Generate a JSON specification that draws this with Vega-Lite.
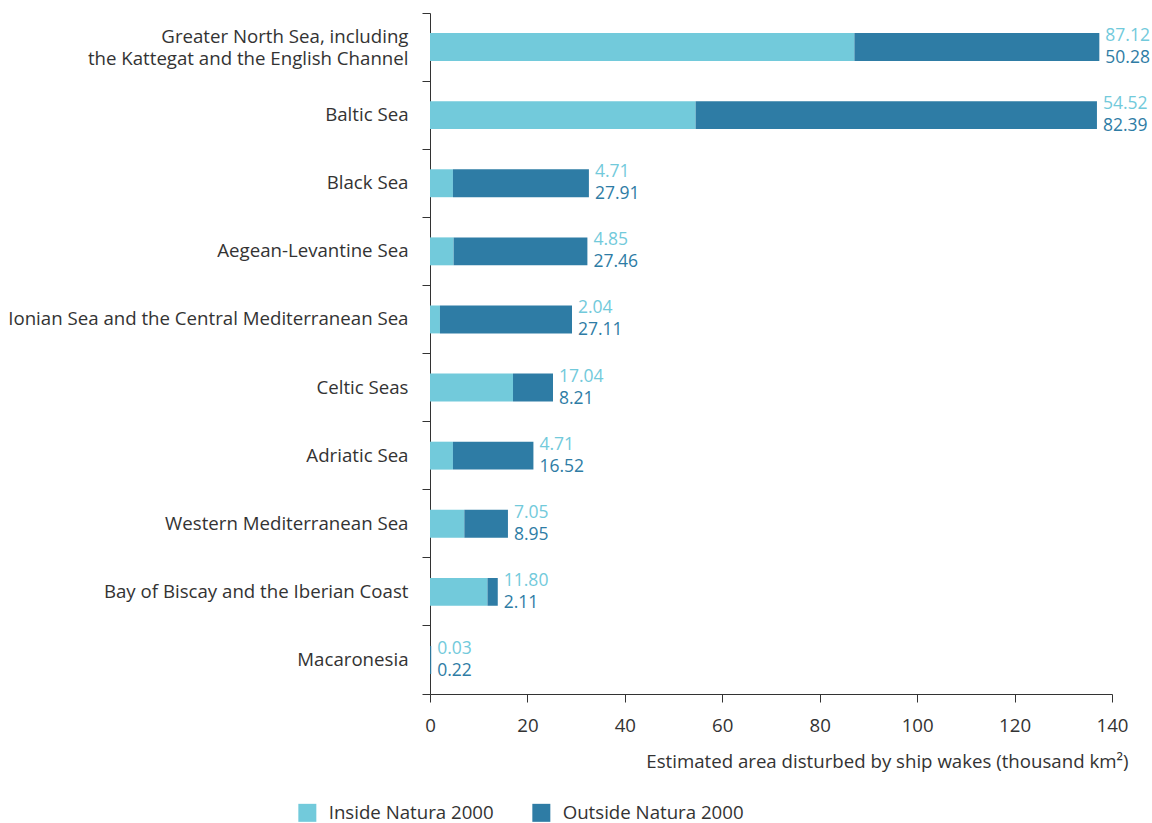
{
  "$schema": "https://vega.github.io/schema/vega-lite/v6.json",
  "width": 682,
  "height": 681,
  "autosize": {"type": "none"},
  "padding": {"left": 430, "top": 13, "right": 40, "bottom": 129},
  "background": "white",
  "config": {
    "font": "Open Sans",
    "view": {"stroke": null},
    "axis": {"labelFont": "Open Sans", "titleFont": "Open Sans", "labelColor": "#333333", "titleColor": "#333333", "domainColor": "#333333", "tickColor": "#333333", "grid": false}
  },
  "data": {
    "values": [
      {"sea": "Greater North Sea, including the Kattegat and the English Channel", "type": "Inside Natura 2000", "value": 87.12},
      {"sea": "Greater North Sea, including the Kattegat and the English Channel", "type": "Outside Natura 2000", "value": 50.28},
      {"sea": "Baltic Sea", "type": "Inside Natura 2000", "value": 54.52},
      {"sea": "Baltic Sea", "type": "Outside Natura 2000", "value": 82.39},
      {"sea": "Black Sea", "type": "Inside Natura 2000", "value": 4.71},
      {"sea": "Black Sea", "type": "Outside Natura 2000", "value": 27.91},
      {"sea": "Aegean-Levantine Sea", "type": "Inside Natura 2000", "value": 4.85},
      {"sea": "Aegean-Levantine Sea", "type": "Outside Natura 2000", "value": 27.46},
      {"sea": "Ionian Sea and the Central Mediterranean Sea", "type": "Inside Natura 2000", "value": 2.04},
      {"sea": "Ionian Sea and the Central Mediterranean Sea", "type": "Outside Natura 2000", "value": 27.11},
      {"sea": "Celtic Seas", "type": "Inside Natura 2000", "value": 17.04},
      {"sea": "Celtic Seas", "type": "Outside Natura 2000", "value": 8.21},
      {"sea": "Adriatic Sea", "type": "Inside Natura 2000", "value": 4.71},
      {"sea": "Adriatic Sea", "type": "Outside Natura 2000", "value": 16.52},
      {"sea": "Western Mediterranean Sea", "type": "Inside Natura 2000", "value": 7.05},
      {"sea": "Western Mediterranean Sea", "type": "Outside Natura 2000", "value": 8.95},
      {"sea": "Bay of Biscay and the Iberian Coast", "type": "Inside Natura 2000", "value": 11.80},
      {"sea": "Bay of Biscay and the Iberian Coast", "type": "Outside Natura 2000", "value": 2.11},
      {"sea": "Macaronesia", "type": "Inside Natura 2000", "value": 0.03},
      {"sea": "Macaronesia", "type": "Outside Natura 2000", "value": 0.22}
    ]
  },
  "transform": [
    {"joinaggregate": [{"op": "sum", "field": "value", "as": "total"}], "groupby": ["sea"]}
  ],
  "encoding": {
    "y": {
      "field": "sea",
      "type": "nominal",
      "sort": null,
      "scale": {"paddingInner": 0, "paddingOuter": 0},
      "axis": {
        "title": null,
        "labelFontSize": 18.67,
        "labelPadding": 14,
        "tickSize": 8,
        "bandPosition": 1,
        "tickExtra": true,
        "labelLineHeight": 22,
        "labelLimit": 500,
        "labelOffset": {"condition": {"test": "datum.value == 'Greater North Sea, including the Kattegat and the English Channel'", "value": -10}, "value": 0},
        "labelExpr": "datum.label == 'Greater North Sea, including the Kattegat and the English Channel' ? ['Greater North Sea, including', 'the Kattegat and the English Channel'] : datum.label"
      }
    }
  },
  "layer": [
    {
      "mark": {"type": "bar", "height": {"band": 0.41}},
      "encoding": {
        "x": {
          "field": "value",
          "type": "quantitative",
          "stack": "zero",
          "scale": {"domain": [0, 140]},
          "axis": {
            "title": "Estimated area disturbed by ship wakes (thousand km²)",
            "values": [0, 20, 40, 60, 80, 100, 120, 140],
            "labelFontSize": 18.67,
            "labelPadding": 14,
            "labelFlush": false,
            "tickSize": 8,
            "titleFontSize": 18.67,
            "titleFontWeight": "normal",
            "titleAnchor": "end",
            "titleAlign": "right",
            "titleX": 698,
            "titleY": 58
          }
        },
        "color": {
          "field": "type",
          "type": "nominal",
          "scale": {"domain": ["Inside Natura 2000", "Outside Natura 2000"], "range": ["#72CADB", "#2E7CA5"]},
          "legend": {
            "title": null,
            "orient": "none",
            "direction": "horizontal",
            "legendX": -132,
            "legendY": 790,
            "symbolType": "square",
            "symbolSize": 324,
            "symbolStrokeWidth": 0,
            "labelFontSize": 18.67,
            "labelColor": "#333333",
            "labelFont": "Open Sans",
            "labelLimit": 400,
            "columnPadding": 38,
            "labelOffset": 12
          }
        },
        "order": {"field": "type", "sort": "ascending"}
      }
    },
    {
      "transform": [{"filter": "datum.type == 'Inside Natura 2000'"}],
      "mark": {"type": "text", "align": "left", "baseline": "middle", "dx": 6, "dy": -11, "fontSize": 17.5, "color": "#72CADB"},
      "encoding": {
        "x": {"field": "total", "type": "quantitative"},
        "text": {"field": "value", "type": "quantitative", "format": ".2f"}
      }
    },
    {
      "transform": [{"filter": "datum.type == 'Outside Natura 2000'"}],
      "mark": {"type": "text", "align": "left", "baseline": "middle", "dx": 6, "dy": 11, "fontSize": 17.5, "color": "#2E7CA5"},
      "encoding": {
        "x": {"field": "total", "type": "quantitative"},
        "text": {"field": "value", "type": "quantitative", "format": ".2f"}
      }
    }
  ]
}
